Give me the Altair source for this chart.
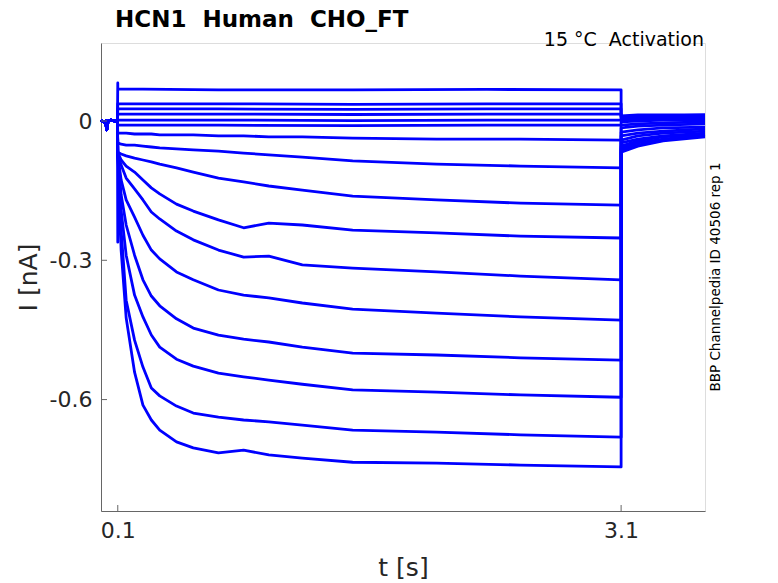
import altair as alt
import pandas as pd

# ---------------- data ----------------
TIME_PRE = [0.0, 0.015, 0.028, 0.034, 0.042, 0.06, 0.08, 0.098]
I_PRE = [0.002, -0.002, 0.0, -0.019, 0.0, 0.002, 0.0, 0.0]

TIME_STEP = [0.1, 0.12, 0.15, 0.2, 0.25, 0.3, 0.35, 0.45, 0.55, 0.7, 0.85, 1.0, 1.2, 1.5, 2.0, 2.5, 3.1]
TIME_FLAT = [0.1, 0.7, 1.5, 2.3, 3.1]
TIME_TAIL = [3.1, 3.2, 3.35, 3.6]

# flat (depolarised) sweeps
FLAT_1 = [0.069, 0.067, 0.067, 0.068, 0.067]
FLAT_2 = [0.037, 0.037, 0.036, 0.037, 0.037]
FLAT_3 = [0.026, 0.026, 0.025, 0.026, 0.026]
FLAT_4 = [0.015, 0.015, 0.014, 0.015, 0.015]
FLAT_5 = [0.002, 0.002, 0.001, 0.002, 0.002]
FLAT_6 = [-0.009, -0.009, -0.010, -0.009, -0.009]

# activating sweeps
STEP_Z = [-0.026, -0.026, -0.026, -0.028, -0.028, -0.028, -0.030, -0.030, -0.030, -0.032, -0.032, -0.034, -0.034, -0.037, -0.039, -0.039, -0.041]
STEP_A = [-0.047, -0.050, -0.052, -0.052, -0.054, -0.056, -0.058, -0.060, -0.062, -0.065, -0.069, -0.073, -0.078, -0.086, -0.093, -0.097, -0.101]
STEP_B = [-0.067, -0.071, -0.075, -0.080, -0.084, -0.088, -0.093, -0.101, -0.110, -0.123, -0.131, -0.140, -0.149, -0.162, -0.170, -0.177, -0.181]
STEP_C = [-0.067, -0.084, -0.097, -0.110, -0.127, -0.144, -0.157, -0.179, -0.194, -0.213, -0.230, -0.220, -0.224, -0.235, -0.241, -0.248, -0.252]
STEP_D = [-0.073, -0.095, -0.123, -0.146, -0.170, -0.196, -0.211, -0.237, -0.256, -0.278, -0.293, -0.291, -0.310, -0.317, -0.325, -0.334, -0.342]
STEP_E = [-0.073, -0.127, -0.170, -0.207, -0.246, -0.278, -0.297, -0.325, -0.342, -0.364, -0.375, -0.381, -0.392, -0.405, -0.414, -0.422, -0.429]
STEP_F = [-0.073, -0.159, -0.224, -0.289, -0.342, -0.377, -0.398, -0.426, -0.446, -0.461, -0.470, -0.476, -0.487, -0.500, -0.504, -0.510, -0.515]
STEP_G = [-0.073, -0.192, -0.289, -0.375, -0.422, -0.461, -0.487, -0.513, -0.528, -0.543, -0.551, -0.558, -0.567, -0.579, -0.584, -0.590, -0.595]
STEP_H = [-0.073, -0.235, -0.386, -0.472, -0.530, -0.575, -0.592, -0.614, -0.629, -0.638, -0.644, -0.648, -0.655, -0.666, -0.670, -0.676, -0.681]
STEP_I = [-0.073, -0.278, -0.424, -0.541, -0.612, -0.644, -0.666, -0.691, -0.704, -0.715, -0.709, -0.719, -0.726, -0.735, -0.737, -0.741, -0.745]

# tail currents after the step
TAIL_1 = [0.011, 0.013, 0.013, 0.013]
TAIL_2 = [0.009, 0.011, 0.011, 0.013]
TAIL_3 = [0.006, 0.009, 0.009, 0.011]
TAIL_4 = [0.004, 0.006, 0.006, 0.009]
TAIL_5 = [0.002, 0.004, 0.004, 0.006]
TAIL_6 = [-0.002, 0.0, 0.002, 0.002]
TAIL_Z = [-0.009, -0.006, -0.004, -0.002]
TAIL_A = [-0.015, -0.011, -0.009, -0.006]
TAIL_B = [-0.024, -0.019, -0.015, -0.013]
TAIL_C = [-0.032, -0.026, -0.022, -0.017]
TAIL_D = [-0.041, -0.032, -0.026, -0.022]
TAIL_E = [-0.047, -0.039, -0.032, -0.026]
TAIL_F = [-0.054, -0.043, -0.034, -0.028]
TAIL_G = [-0.058, -0.047, -0.039, -0.030]
TAIL_H = [-0.062, -0.052, -0.041, -0.032]
TAIL_I = [-0.067, -0.054, -0.043, -0.034]

# capacitive transients at step onset
SPIKE_UP = 0.082
SPIKE_DOWN = -0.261

X_TICKS = [0.1, 3.1]
Y_TICKS = [0.0, -0.3, -0.6]

TITLE = "HCN1\u00a0 Human\u00a0 CHO_FT"
SUBTITLE = "15 \u00b0C\u00a0 Activation"
SIDE = "BBP Channelpedia ID 40506 rep 1"

# ---------------- build table ----------------
sweeps = [
    ("s01", TIME_FLAT, FLAT_1, TAIL_1, SPIKE_UP),
    ("s02", TIME_FLAT, FLAT_2, TAIL_2, None),
    ("s03", TIME_FLAT, FLAT_3, TAIL_3, None),
    ("s04", TIME_FLAT, FLAT_4, TAIL_4, None),
    ("s05", TIME_FLAT, FLAT_5, TAIL_5, None),
    ("s06", TIME_FLAT, FLAT_6, TAIL_6, None),
    ("s07", TIME_STEP, STEP_Z, TAIL_Z, None),
    ("s08", TIME_STEP, STEP_A, TAIL_A, None),
    ("s09", TIME_STEP, STEP_B, TAIL_B, None),
    ("s10", TIME_STEP, STEP_C, TAIL_C, None),
    ("s11", TIME_STEP, STEP_D, TAIL_D, None),
    ("s12", TIME_STEP, STEP_E, TAIL_E, None),
    ("s13", TIME_STEP, STEP_F, TAIL_F, None),
    ("s14", TIME_STEP, STEP_G, TAIL_G, None),
    ("s15", TIME_STEP, STEP_H, TAIL_H, None),
    ("s16", TIME_STEP, STEP_I, TAIL_I, SPIKE_DOWN),
]

rows = []
for name, ts, vals, tail, spike in sweeps:
    k = 0
    for t, v in zip(TIME_PRE, I_PRE):
        rows.append({"sweep": name, "t": t, "I": v, "k": k}); k += 1
    if spike is not None:
        rows.append({"sweep": name, "t": 0.1, "I": spike, "k": k}); k += 1
    for t, v in zip(ts, vals):
        rows.append({"sweep": name, "t": t, "I": v, "k": k}); k += 1
    for t, v in zip(TIME_TAIL, tail):
        rows.append({"sweep": name, "t": t, "I": v, "k": k}); k += 1

df = pd.DataFrame(rows)

FONT = "DejaVu Sans"
TXT = "#262626"
AX = "#666666"
W, H = 604, 468

xscale = alt.Scale(domain=[0, 3.6], nice=False, zero=False)
yscale = alt.Scale(domain=[-0.84, 0.168], nice=False, zero=False)

lines = alt.Chart(df).mark_line(color="#0000FF", strokeWidth=2.8, strokeJoin="round").encode(
    x=alt.X("t:Q", scale=xscale,
            axis=alt.Axis(values=X_TICKS, ticks=False, grid=False, title="t [s]",
                          labelFontSize=22, labelColor=TXT, labelFont=FONT, labelPadding=9,
                          domainColor=AX, titleFontSize=25, titleColor=TXT, titleFont=FONT,
                          titleFontWeight="normal", titleY=56, titleBaseline="middle")),
    y=alt.Y("I:Q", scale=yscale,
            axis=alt.Axis(values=Y_TICKS, ticks=False, grid=False, title="I [nA]",
                          labelExpr="datum.value == 0 ? '0\u2007\u2007' : '' + datum.value",
                          labelFontSize=22, labelColor=TXT, labelFont=FONT, labelPadding=9,
                          domainColor=AX, titleFontSize=25, titleColor=TXT, titleFont=FONT,
                          titleFontWeight="normal", titleX=-73, titleY=234,
                          titleBaseline="middle", titleAlign="center", titleAngle=270)),
    detail="sweep:N",
    order="k:Q",
)

xt = alt.Chart(pd.DataFrame({"t": X_TICKS})).mark_rule(color=AX, strokeWidth=1).encode(
    x=alt.X("t:Q", scale=xscale), y=alt.value(H), y2=alt.value(H - 6))
yt = alt.Chart(pd.DataFrame({"I": Y_TICKS})).mark_rule(color=AX, strokeWidth=1).encode(
    y=alt.Y("I:Q", scale=yscale), x=alt.value(0), x2=alt.value(6))

ttl = alt.Chart(pd.DataFrame({"s": [TITLE]})).mark_text(
    align="left", baseline="middle", fontSize=23, fontWeight="bold", font=FONT, color="#000000").encode(
    text="s:N", x=alt.value(14), y=alt.value(-23))

sub = alt.Chart(pd.DataFrame({"s": [SUBTITLE]})).mark_text(
    align="right", baseline="middle", fontSize=19, font=FONT, color="#000000").encode(
    text="s:N", x=alt.value(W - 1), y=alt.value(-3))

side = alt.Chart(pd.DataFrame({"s": [SIDE]})).mark_text(
    align="center", baseline="middle", angle=270, fontSize=13.5, font=FONT, color="#000000").encode(
    text="s:N", x=alt.value(615), y=alt.value(234))

chart = alt.layer(lines, xt, yt, ttl, sub, side).properties(
    width=W, height=H,
    autosize=alt.AutoSizeParams(type="none"),
    padding={"left": 93, "top": 35, "right": 65, "bottom": 72},
).configure_view(stroke=None).configure(background="white")

chart.save("out.html", embed_options={"renderer": "svg", "actions": False})
